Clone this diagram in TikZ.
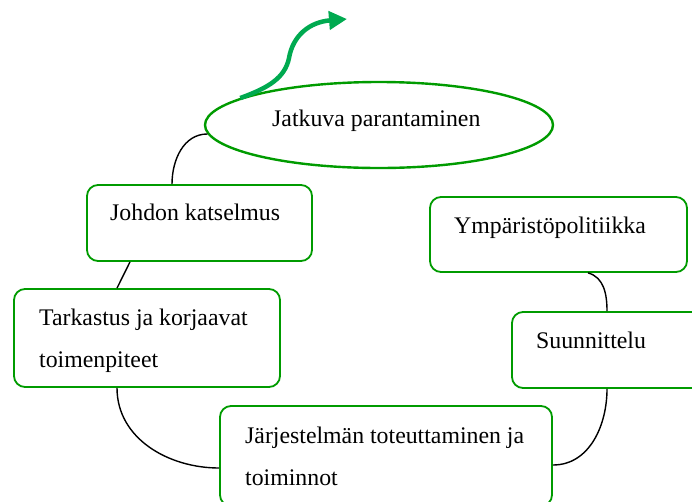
\documentclass[tikz,border=0pt]{standalone}
\usepackage{fontspec}
\setmainfont{Liberation Serif}
\usetikzlibrary{shapes.geometric,arrows.meta,calc}
\definecolor{boxgreen}{RGB}{0,155,0}
\definecolor{arrowgreen}{RGB}{0,170,80}
\begin{document}
\begin{tikzpicture}[x=1pt,y=-1pt,
  stage/.style={draw=boxgreen, line width=1.8pt, rounded corners=11pt, inner sep=0pt},
  oval/.style={draw=boxgreen, line width=2.4pt, ellipse, inner sep=0pt},
  lbl/.style={anchor=base west, inner sep=0pt, font=\fontsize{23.8}{28}\selectfont},
  link/.style={draw=black, line width=1.4pt},
  growth/.style={draw=arrowgreen, line width=4.5pt, -{Triangle[length=18pt,width=18pt]}}]
\useasboundingbox (0,0) rectangle (692,501);
\clip (0,0) rectangle (692,501);

% stages of the cycle
\node[oval, minimum width=348pt, minimum height=86pt] (el) at (379,125) {};
\node[stage, minimum width=225pt, minimum height=76pt] (jk) at (199.5,223) {};
\node[stage, minimum width=257pt, minimum height=75pt] (yp) at (558.5,234.5) {};
\node[stage, minimum width=266pt, minimum height=98pt] (tk) at (147,338) {};
\node[stage, minimum width=230pt, minimum height=76pt] (su) at (627,350) {};
\node[stage, minimum width=332pt, minimum height=100pt] (js) at (386,456) {};

% texts
\node[lbl] (t1) at (272,126) {Jatkuva parantaminen};
\node[lbl] (t2) at (110,220) {Johdon katselmus};
\node[lbl] (t3) at (454,233) {Ympäristöpolitiikka};
\node[lbl] (t4) at (39,325) {Tarkastus ja korjaavat};
\node[lbl] (t5) at (39,367) {toimenpiteet};
\node[lbl] (t6) at (536,348) {Suunnittelu};
\node[lbl] (t7) at (245,443) {Järjestelmän toteuttaminen ja};
\node[lbl] (t8) at (245,485) {toiminnot};

% connectors between stages
\draw[link] (el.183) to[out=180,in=90] ([xshift=-27.5pt]jk.north);
\draw[link] ([xshift=-69.5pt]jk.south) -- ([xshift=-30pt]tk.north);
\draw[link] ([xshift=-30pt]tk.south) to[out=-90,in=180] ([yshift=-12pt]js.west);
\draw[link] ([yshift=-9pt]js.east) to[out=0,in=-90] ([xshift=-20pt]su.south);
\draw[link] ([xshift=29.5pt]yp.south) to[out=-15,in=90] ([xshift=-20pt]su.north);

% upward arrow leaving the cycle
\coordinate (tip) at (347,19);
\draw[growth] (el.169) .. controls (268,88) and (285,78) .. (289,58)
  .. controls (293,35) and (310,22) .. (tip);
\end{tikzpicture}
\end{document}
